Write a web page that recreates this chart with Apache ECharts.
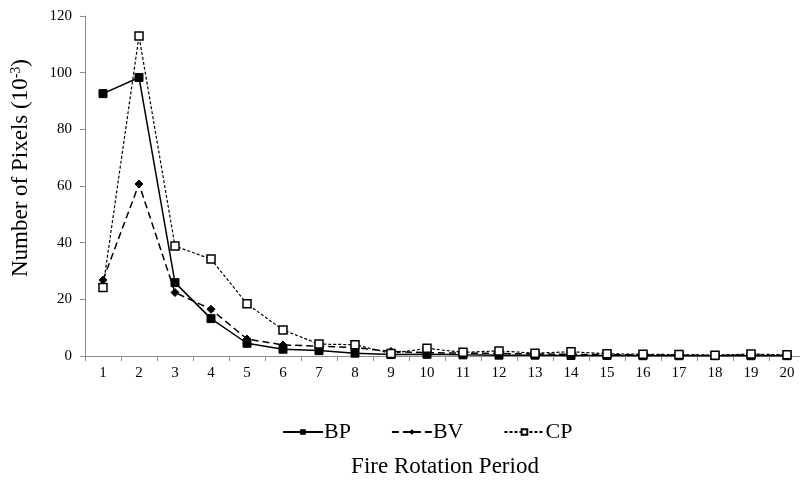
<!DOCTYPE html>
<html>
<head>
<meta charset="utf-8">
<script src="https://cdn.jsdelivr.net/npm/echarts@6/dist/echarts.min.js"></script>
<style>
  html, body { margin: 0; padding: 0; background: #fff; }
  #chart { width: 800px; height: 492px; }
</style>
</head>
<body>
<div id="chart"></div>
<script>
// Fire rotation period (years) on the category axis
const periods = ['1','2','3','4','5','6','7','8','9','10','11','12','13','14','15','16','17','18','19','20'];
// Pixel counts (x 10^-3) per class
const bpValues = [92.6, 98.3, 25.9, 13.2, 4.5, 2.4, 1.9, 1.0, 0.5, 0.6, 0.4, 0.3, 0.3, 0.2, 0.2, 0.1, 0.1, 0.1, 0.1, 0.1];
const bvValues = [26.8, 60.7, 22.4, 16.5, 6.0, 3.9, 3.5, 3.0, 1.6, 1.2, 1.0, 0.9, 0.7, 0.6, 0.5, 0.4, 0.3, 0.2, 0.4, 0.2];
const cpValues = [24.2, 112.9, 38.8, 34.2, 18.4, 9.2, 4.2, 4.0, 0.9, 2.7, 1.3, 1.8, 1.0, 1.5, 0.8, 0.6, 0.5, 0.3, 0.7, 0.4];
const yTicks = { min: 0, max: 120, interval: 20 };

const serif = 'Liberation Serif';
const chart = echarts.init(document.getElementById('chart'), null, { renderer: 'canvas' });

chart.setOption({
  backgroundColor: '#ffffff',
  animation: false,
  textStyle: { fontFamily: serif, color: '#000' },
  grid: { left: 85, top: 16, width: 720, height: 340, containLabel: false, outerBoundsMode: 'none' },
  legend: {
    top: 416,
    left: 277,
    itemWidth: 40,
    itemHeight: 7,
    itemGap: 40,
    textStyle: { fontFamily: serif, fontSize: 22, color: '#000', padding: [0, 0, 0, -4] },
    data: ['BP', 'BV', 'CP']
  },
  graphic: [{
    type: 'text',
    x: 21,
    y: 168,
    rotation: Math.PI / 2,
    style: {
      text: '{a|Number of Pixels (10}{s|-3}{a|)}',
      align: 'center',
      verticalAlign: 'middle',
      rich: {
        a: { fontFamily: serif, fontSize: 23, fill: '#000' },
        s: { fontFamily: serif, fontSize: 14, fill: '#000', verticalAlign: 'top', padding: [0, 0, 10, 0] }
      }
    }
  }],
  xAxis: {
    type: 'category',
    data: periods,
    boundaryGap: true,
    name: 'Fire Rotation Period',
    nameLocation: 'middle',
    nameGap: 99,
    nameTextStyle: { fontFamily: serif, fontSize: 23, color: '#000' },
    axisLine: { lineStyle: { color: '#8c8c8c', width: 1 } },
    axisTick: { show: true, alignWithLabel: false, length: 5, lineStyle: { color: '#8c8c8c' } },
    axisLabel: { fontFamily: serif, fontSize: 15, color: '#000', margin: 10 },
    splitLine: { show: false }
  },
  yAxis: {
    type: 'value',
    min: yTicks.min,
    max: yTicks.max,
    interval: yTicks.interval,
    axisLine: { show: true, lineStyle: { color: '#8c8c8c', width: 1 } },
    axisTick: { show: true, length: 5, lineStyle: { color: '#8c8c8c' } },
    axisLabel: { fontFamily: serif, fontSize: 15, color: '#000', margin: 13 },
    splitLine: { show: false }
  },
  series: [
    {
      name: 'BP',
      type: 'line',
      data: bpValues,
      symbol: 'rect',
      symbolSize: 8,
      itemStyle: { color: '#000', borderColor: '#000' },
      lineStyle: { color: '#000', width: 1.5, type: 'solid' },
      z: 3
    },
    {
      name: 'BV',
      type: 'line',
      data: bvValues,
      symbol: 'diamond',
      symbolSize: 8,
      itemStyle: { color: '#000', borderColor: '#000' },
      lineStyle: { color: '#000', width: 1.5, type: [7, 4] },
      z: 2
    },
    {
      name: 'CP',
      type: 'line',
      data: cpValues,
      symbol: 'rect',
      symbolSize: 8,
      itemStyle: { color: '#fff', borderColor: '#000', borderWidth: 1.5 },
      lineStyle: { color: '#000', width: 1.2, type: [3, 2] },
      z: 4
    }
  ]
});
</script>
</body>
</html>
